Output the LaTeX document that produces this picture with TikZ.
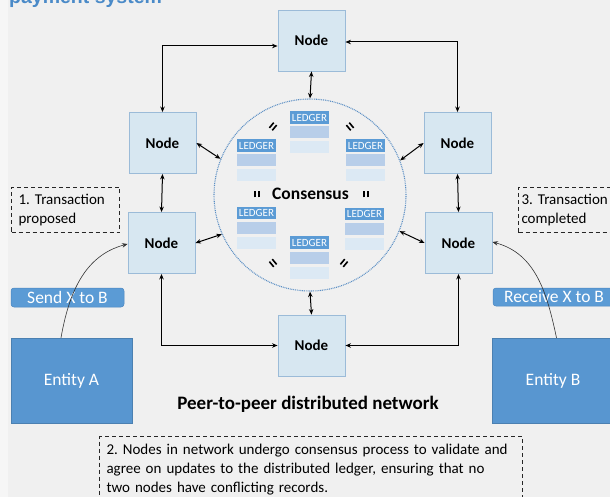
\documentclass[tikz,border=0pt]{standalone}
\usepackage{fontspec}
\setmainfont{Carlito}
\newfontfamily\titlefont{Liberation Sans}
\usetikzlibrary{arrows.meta}
\frenchspacing
\definecolor{bgcol}{HTML}{F0F0F0}
\definecolor{bgleft}{HTML}{F6F6F6}
\definecolor{nodefill}{HTML}{D7E7F1}
\definecolor{nodeborder}{HTML}{9BBBD8}
\definecolor{entfill}{HTML}{5896D0}
\definecolor{ledhead}{HTML}{5B9BD5}
\definecolor{ledmid}{HTML}{B8CEE9}
\definecolor{ledbot}{HTML}{DCE9F4}
\definecolor{circcol}{HTML}{5B8FC4}
\definecolor{titlecol}{HTML}{4A8AC8}
\definecolor{tagborder}{HTML}{4A86C0}
\tikzset{
  nodebox/.style={draw=nodeborder, fill=nodefill, line width=0.9pt, minimum width=67pt, minimum height=61pt, inner sep=0pt, font=\bfseries\fontsize{15}{17}\selectfont},
  arr/.style={line width=1pt, {Stealth[length=5.5pt,width=4.5pt]}-{Stealth[length=5.5pt,width=4.5pt]}},
  curvearr/.style={line width=0.6pt, draw=black!80, -{Stealth[length=5.5pt,width=4.5pt]}},
  lhead/.style={fill=ledhead, minimum width=39pt, minimum height=12.5pt, inner sep=0pt, text=white, font=\fontsize{11}{11}\selectfont},
  lmid/.style={fill=ledmid, minimum width=39pt, minimum height=12pt, inner sep=0pt},
  lbot/.style={fill=ledbot, minimum width=39pt, minimum height=12pt, inner sep=0pt},
  ledger/.pic={
    \node[lhead] (-h) at (0,0) {LEDGER};
    \node[lmid] (-m) at (0,15) {};
    \node[lbot] (-b) at (0,30) {};
  },
  eqmark/.pic={
    \draw[line width=1.6pt] (-3.4,-1.9) -- (3.4,-1.9);
    \draw[line width=1.6pt] (-3.4,1.9) -- (3.4,1.9);
  },
  dbox/.style={draw=black!85, line width=1pt, dash pattern=on 4pt off 3pt, align=left, font=\fontsize{15}{19}\selectfont, inner ysep=0pt},
  entity/.style={fill=entfill, draw=entfill!85!black, line width=0.4pt, text=white, font=\fontsize{17.5}{19}\selectfont, inner sep=0pt},
  tag/.style={fill=ledhead, draw=tagborder, line width=0.5pt, rounded corners=3pt, text=white, font=\fontsize{17.5}{19}\selectfont, inner sep=0pt},
}
\begin{document}
\begin{tikzpicture}[x=1pt,y=-1pt]
\useasboundingbox (0,0) rectangle (610,497);
\clip (0,0) rectangle (610,497);
\fill[bgcol] (0,0) rectangle (610,497);
\fill[bgleft] (0,0) rectangle (8,497);

% title (cut off at the top, as in the reference)
\node[anchor=base west, inner sep=0pt, text=titlecol, font=\titlefont\bfseries\fontsize{19.5}{20}\selectfont] (title) at (9,3.5) {payment system};

% consensus circle
\node[circle, draw=circcol, line width=1.1pt, dash pattern=on 0.9pt off 0.9pt, minimum size=192pt, inner sep=0pt] (C) at (310,195) {};

% network nodes
\node[nodebox] (T)  at (311.5,40.5) {Node};
\node[nodebox] (LU) at (162.5,143) {Node};
\node[nodebox] (LL) at (161.5,243) {Node};
\node[nodebox] (RU) at (457.5,143) {Node};
\node[nodebox] (RL) at (458.5,243) {Node};
\node[nodebox] (B)  at (311.5,345.5) {Node};

% ledgers
\pic (L1) at (309.5,117.5) {ledger};
\pic (L2) at (256.5,145.5) {ledger};
\pic (L3) at (365.5,145.5) {ledger};
\pic (L4) at (256.5,213) {ledger};
\pic (L5) at (364.5,214) {ledger};
\pic (L6) at (309.5,242.5) {ledger};

\node[font=\bfseries\fontsize{17.5}{18}\selectfont, inner sep=0pt] (cons) at (310.5,194) {Consensus};
\pic[rotate=90] (e1) at (257,194) {eqmark};
\pic[rotate=90] (e2) at (366,194) {eqmark};
\pic[rotate=50] (e3) at (273,126.5) {eqmark};
\pic[rotate=-50] (e4) at (350,126.5) {eqmark};
\pic[rotate=-50] (e5) at (273,263) {eqmark};
\pic[rotate=50] (e6) at (344,263) {eqmark};

% connectors
\draw[arr] ([yshift=-5.5pt]T.west) -| (LU.north);
\draw[arr] ([yshift=-1.5pt]T.east) -| (RU.north);
\draw[arr] (LL.south) |- (B.west);
\draw[arr] (RL.south) |- (B.east);
\draw[arr] (LU.south) -- (LL.north);
\draw[arr] (RU.south) -- (RL.north);
\draw[arr] (T.south) -- (C.north);
\draw[arr] (B.north) -- (C.south);
\draw[arr] (LU.east) -- (C.158);
\draw[arr] (LL.east) -- (C.204);
\draw[arr] (RU.west) -- (C.21);
\draw[arr] (RL.west) -- (C.338);

% entities and tags
\node[entity, minimum width=121pt, minimum height=85pt] (EA) at (71.5,380.5) {Entity A};
\node[entity, minimum width=122pt, minimum height=85pt] (EB) at (553,380.5) {Entity B};
\node[tag, minimum width=113pt, minimum height=19pt] (SX) at (67.5,297.5) {Send X to B};
\node[tag, minimum width=122pt, minimum height=18pt] (RX) at (554,297) {Receive X to B};

\draw[curvearr] ([xshift=-10.5pt]EA.north) to[out=80, in=195] ([yshift=-1pt]LL.west);
\draw[curvearr] ([xshift=3.5pt]EB.north) to[out=102, in=-15] ([yshift=1pt]RL.east);

% dashed annotation boxes
\node[dbox, anchor=north west, minimum width=106pt, minimum height=45pt, text width=94pt, inner xsep=7pt] (N1) at (11,187) {1. Transaction\\proposed};
\node[dbox, anchor=north west, minimum width=104pt, minimum height=45pt, text width=98pt, inner xsep=3pt] (N3) at (518,187) {3. Transaction\\completed};
\node[dbox, anchor=north west, minimum width=423pt, minimum height=66pt, text width=409pt, inner xsep=7pt] (N2) at (99,436) {2. Nodes in network undergo consensus process to validate and\\agree on updates to the distributed ledger, ensuring that no\\two nodes have conflicting records.};

\node[font=\bfseries\fontsize{19}{20}\selectfont, inner sep=0pt] (p2p) at (308,404) {Peer-to-peer distributed network};
\end{tikzpicture}
\end{document}
